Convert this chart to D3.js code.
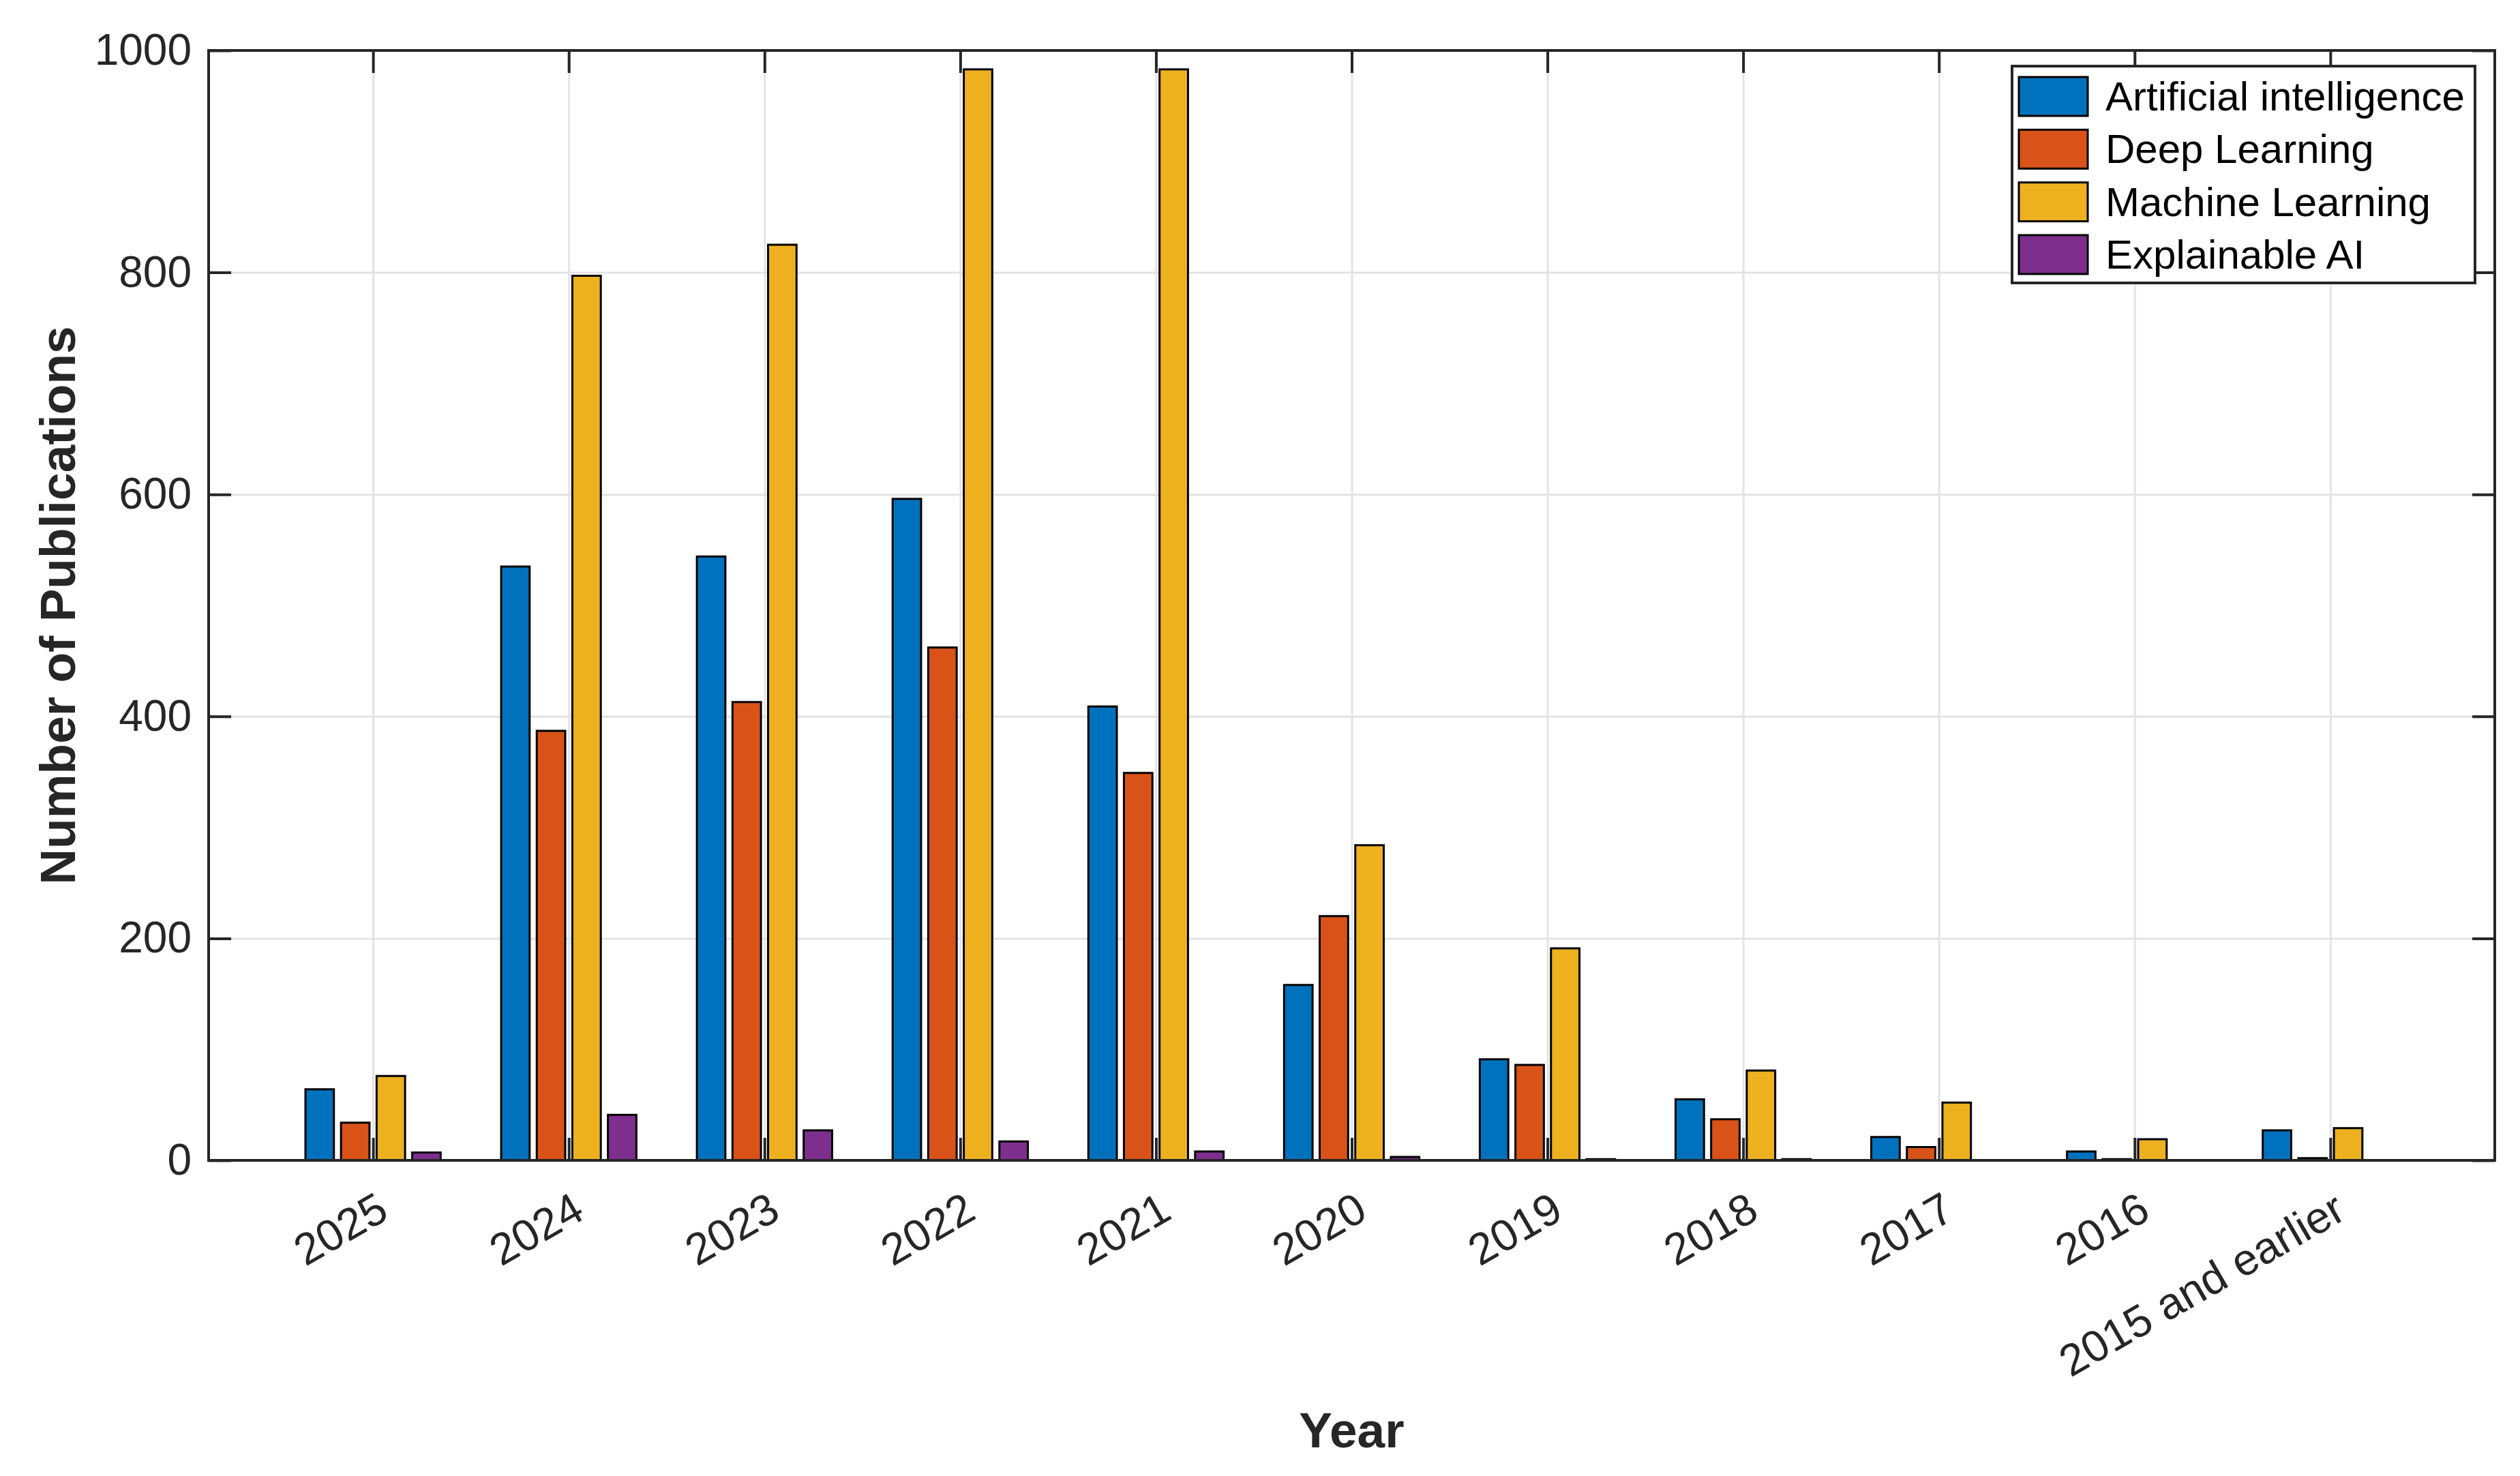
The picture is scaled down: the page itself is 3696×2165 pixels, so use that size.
<!DOCTYPE html>
<html>
<head>
<meta charset="utf-8">
<script src="https://cdn.jsdelivr.net/npm/d3@7"></script>
<style>
  body { margin: 0; background: #fff; }
  svg { display: block; font-family: "Liberation Sans", Arial, sans-serif; }
</style>
</head>
<body>
<div id="chart"></div>
<script>
"use strict"

// data
const categories = ["2025", "2024", "2023", "2022", "2021", "2020", "2019", "2018", "2017", "2016", "2015 and earlier"];
const seriesNames = ["Artificial intelligence", "Deep Learning", "Machine Learning", "Explainable AI"];
const aiValues  = [64, 535, 544, 596, 409, 158, 91, 55, 21, 8, 27];
const dlValues  = [34, 387, 413, 462, 349, 220, 86, 37, 12, 1, 2];
const mlValues  = [76, 797, 825, 983, 983, 284, 191, 81, 52, 19, 29];
const xaiValues = [7, 41, 27, 17, 8, 3, 1, 1, 0, 0, 0];
const yTicks = [0, 200, 400, 600, 800, 1000];

const colors = ["#0072BD", "#D95319", "#EDB120", "#7E2F8E"];
const seriesValues = [aiValues, dlValues, mlValues, xaiValues];

var width = 3696,
    height = 2165,
    margin = { top: 74, right: 37, bottom: 463, left: 306 },
    plotW = width - margin.left - margin.right,
    plotH = height - margin.top - margin.bottom;

var svg = d3.select("#chart")
    .append("svg")
    .attr("width", width)
    .attr("height", height);

var g = svg.append("g")
    .attr("transform", "translate(" + margin.left + "," + margin.top + ")");

// scales (category index 1..11 like a matlab grouped bar)
var x = d3.scaleLinear().domain([0.16, 11.84]).range([0, plotW]);
var y = d3.scaleLinear().domain([0, 1000]).range([plotH, 0]);

var nSeries = seriesValues.length;
var groupWidth = Math.min(0.8, nSeries / (nSeries + 1.5));
var barW = 0.8 * groupWidth / nSeries;
function offset(i) { return -groupWidth / 2 + (2 * i + 1) * groupWidth / (2 * nSeries); }

// grid
g.append("g")
    .attr("class", "grid")
    .call(d3.axisLeft(y).tickValues(yTicks).tickSize(-plotW).tickFormat(""))
    .call(s => s.select(".domain").remove())
    .selectAll("line").attr("stroke", "#e3e3e3").attr("stroke-width", 3);

g.append("g")
    .attr("class", "grid")
    .attr("transform", "translate(0," + plotH + ")")
    .call(d3.axisBottom(x).tickValues(d3.range(1, categories.length + 1)).tickSize(-plotH).tickFormat(""))
    .call(s => s.select(".domain").remove())
    .selectAll("line").attr("stroke", "#e3e3e3").attr("stroke-width", 3);

// inner ticks on all four sides
function styleTicks(s) {
    s.select(".domain").remove();
    s.selectAll("line").attr("stroke", "#262626").attr("stroke-width", 4);
}
var tickLen = 33;
var yAxis = g.append("g")
    .call(d3.axisLeft(y).tickValues(yTicks).tickSize(-tickLen).tickPadding(25).tickFormat(d3.format("d")))
    .call(styleTicks);
yAxis.selectAll("text")
    .attr("font-size", 64)
    .attr("fill", "#262626")
    .attr("font-family", "Liberation Sans, Arial, sans-serif");

g.append("g")
    .attr("transform", "translate(" + plotW + ",0)")
    .call(d3.axisRight(y).tickValues(yTicks).tickSize(-tickLen).tickFormat(""))
    .call(styleTicks);

g.append("g")
    .call(d3.axisTop(x).tickValues(d3.range(1, categories.length + 1)).tickSize(-tickLen).tickFormat(""))
    .call(styleTicks);

g.append("g")
    .attr("transform", "translate(0," + plotH + ")")
    .call(d3.axisBottom(x).tickValues(d3.range(1, categories.length + 1)).tickSize(-tickLen).tickFormat(""))
    .call(styleTicks);

// rotated category labels
g.append("g")
    .selectAll("text")
    .data(categories)
    .enter()
    .append("text")
    .attr("transform", (d, i) => "translate(" + (x(i + 1) + 26) + "," + (plotH + 84) + ") rotate(-30)")
    .attr("text-anchor", "end")
    .attr("font-size", 65)
    .attr("fill", "#262626")
    .text(d => d);

// bars
seriesValues.forEach((vals, si) => {
    g.append("g")
        .selectAll("path")
        .data(vals)
        .enter()
        .append("path")
        .attr("fill", colors[si])
        .attr("stroke", "#000")
        .attr("stroke-width", 3)
        .attr("d", (d, i) => {
            var x0 = x(i + 1 + offset(si) - barW / 2),
                x1 = x(i + 1 + offset(si) + barW / 2);
            return "M" + x0 + "," + y(0) + "V" + y(d) + "H" + x1 + "V" + y(0) + "Z";
        });
});

// box
g.append("rect")
    .attr("x", 0).attr("y", 0)
    .attr("width", plotW).attr("height", plotH)
    .attr("fill", "none")
    .attr("stroke", "#262626")
    .attr("stroke-width", 4);

// axis labels
svg.append("text")
    .attr("x", margin.left + plotW / 2)
    .attr("y", 2123)
    .attr("text-anchor", "middle")
    .attr("font-size", 73)
    .attr("font-weight", "bold")
    .attr("fill", "#262626")
    .text("Year");

svg.append("text")
    .attr("transform", "translate(110," + (margin.top + plotH / 2) + ") rotate(-90)")
    .attr("text-anchor", "middle")
    .attr("font-size", 73)
    .attr("font-weight", "bold")
    .attr("fill", "#262626")
    .text("Number of Publications");

// legend
var legend = svg.append("g").attr("transform", "translate(2951,97)");
legend.append("rect")
    .attr("width", 679).attr("height", 318)
    .attr("fill", "#fff")
    .attr("stroke", "#262626")
    .attr("stroke-width", 4);

var rows = legend.selectAll("g.row")
    .data(seriesNames)
    .enter()
    .append("g")
    .attr("class", "row")
    .attr("transform", (d, i) => "translate(0," + (44 + i * 77.3) + ")");

rows.append("rect")
    .attr("x", 10).attr("y", -28)
    .attr("width", 101).attr("height", 57)
    .attr("fill", (d, i) => colors[i])
    .attr("stroke", "#000")
    .attr("stroke-width", 3);

rows.append("text")
    .attr("x", 137)
    .attr("y", 0)
    .attr("dy", "0.35em")
    .attr("font-size", 60)
    .attr("fill", "#000")
    .text(d => d);
</script>
</body>
</html>
